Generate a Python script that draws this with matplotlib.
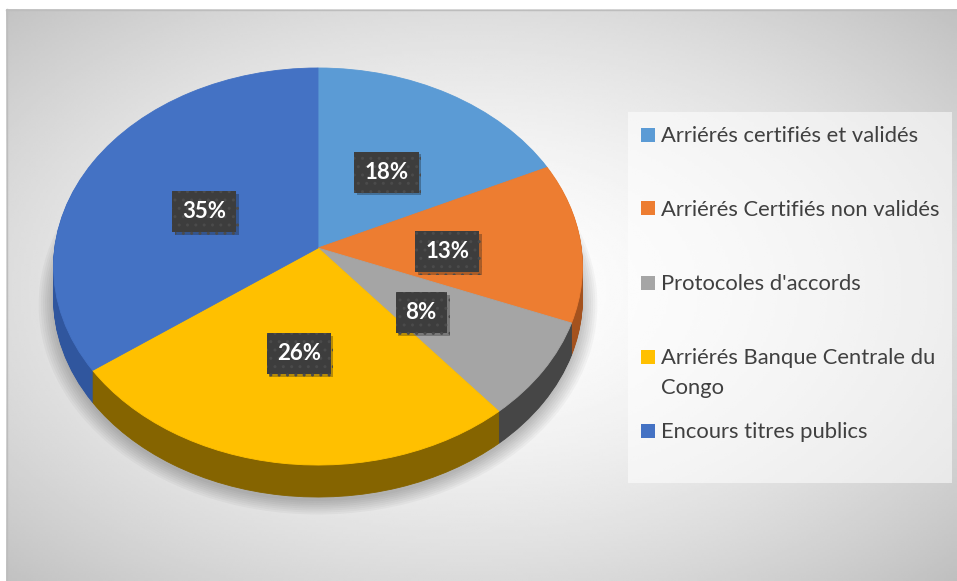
import numpy as np
import matplotlib.pyplot as plt
from matplotlib.transforms import Transform
from matplotlib.patches import Rectangle, Circle
import matplotlib.patheffects as pe

labels = ["Arriérés certifiés et validés", "Arriérés Certifiés non validés",
          "Protocoles d'accords", "Arriérés Banque Centrale du\nCongo",
          "Encours titres publics"]
shares = [18, 13, 8, 26, 35]
colors = ["#5B9BD5", "#ED7D31", "#A5A5A5", "#FFC000", "#4472C4"]
side_colors = ["#3E6E9E", "#A4521E", "#464646", "#856400", "#30569E"]

# where the percentage boxes sit, in the plane of the pie (unit disc)
label_uv = [(0.27, 0.40), (0.49, -0.02), (0.38, -0.32), (-0.07, -0.51), (-0.44, 0.19)]
legend_y = [135, 208, 283, 357, 431]

W, H = 957, 581
DEPTH = 32


class Tilt(Transform):
    """perspective view of the unit disc, output in picture pixels"""
    input_dims = output_dims = 2
    is_separable = False
    has_inverse = False

    def __init__(self, drop=0.0):
        super().__init__()
        self.drop = drop

    def transform_non_affine(self, pts):
        pts = np.atleast_2d(np.asarray(pts, dtype=float))
        u, v = pts[:, 0], pts[:, 1]
        d = 1 + 0.0932 * v
        return np.column_stack([318 + 263.3 * u / d, 248 - 196.8 * v / d + self.drop])


fig = plt.figure(figsize=(W / 100, H / 100), dpi=100)
ax = fig.add_axes([0, 0, 1, 1])

# grey radial background of the chart area
gx, gy = np.meshgrid(np.linspace(6, W, 400), np.linspace(9, H, 250))
r = np.hypot((gx - 470) / 480, (gy - 290) / 290)
ax.imshow(1 - 0.142 * r ** 1.6, cmap='gray', vmin=0, vmax=1,
          extent=(6, W, H, 9), interpolation='bilinear', zorder=0)
ax.plot([6, W], [9.5, 9.5], color='#bdbdbd', lw=1, zorder=1)
ax.plot([6.5, 6.5], [9, H], color='#bdbdbd', lw=1, zorder=1)

# soft shadow under the pie
for i in range(8):
    c = Circle((0, 0), 1 + 0.008 * i, color='black', alpha=0.03, lw=0, zorder=2)
    c.set_transform(Tilt(DEPTH + 4) + ax.transData)
    ax.add_patch(c)

# side wall: stacked copies pushed down, then the top face
for drop in list(range(DEPTH, 0, -1)) + [0]:
    cols = colors if drop == 0 else side_colors
    wedges, _ = ax.pie(shares, colors=cols, startangle=90, counterclock=False,
                       wedgeprops=dict(linewidth=0.6))
    for w in wedges:
        w.set_edgecolor(w.get_facecolor())
        w.set_transform(Tilt(drop) + ax.transData)
        w.set_zorder(3)

# percentage boxes
pos = Tilt().transform(np.array(label_uv))
for (x, y), s in zip(pos, shares):
    t = ax.text(x, y, f"{s}%", ha='center', va='center', fontsize=16,
                fontweight='bold', family='Lato', color='white', zorder=5,
                bbox=dict(boxstyle='square,pad=0.45', fc='#3d3d3d', ec='#4b4b4b',
                          lw=0, hatch='..'))
    t.get_bbox_patch().set_path_effects(
        [pe.SimplePatchShadow(offset=(2, -2), alpha=0.3), pe.Normal()])

# legend panel
ax.add_patch(Rectangle((628, 112), 324, 371, fc='white', ec='none', alpha=0.55, zorder=2))
for lab, col, y in zip(labels, colors, legend_y):
    ax.add_patch(Rectangle((641, y - 7), 14, 14, fc=col, ec='none', zorder=4))
    for i, line in enumerate(lab.split('\n')):
        ax.text(661, y + 7.5 + 29 * i, line, ha='left', va='baseline', fontsize=15.8,
                family='Lato', color='#404040', zorder=4)

ax.set_aspect('auto')
ax.set_xlim(0, W)
ax.set_ylim(H, 0)
ax.axis('off')
fig.savefig('out.png', dpi=100, facecolor='white')
